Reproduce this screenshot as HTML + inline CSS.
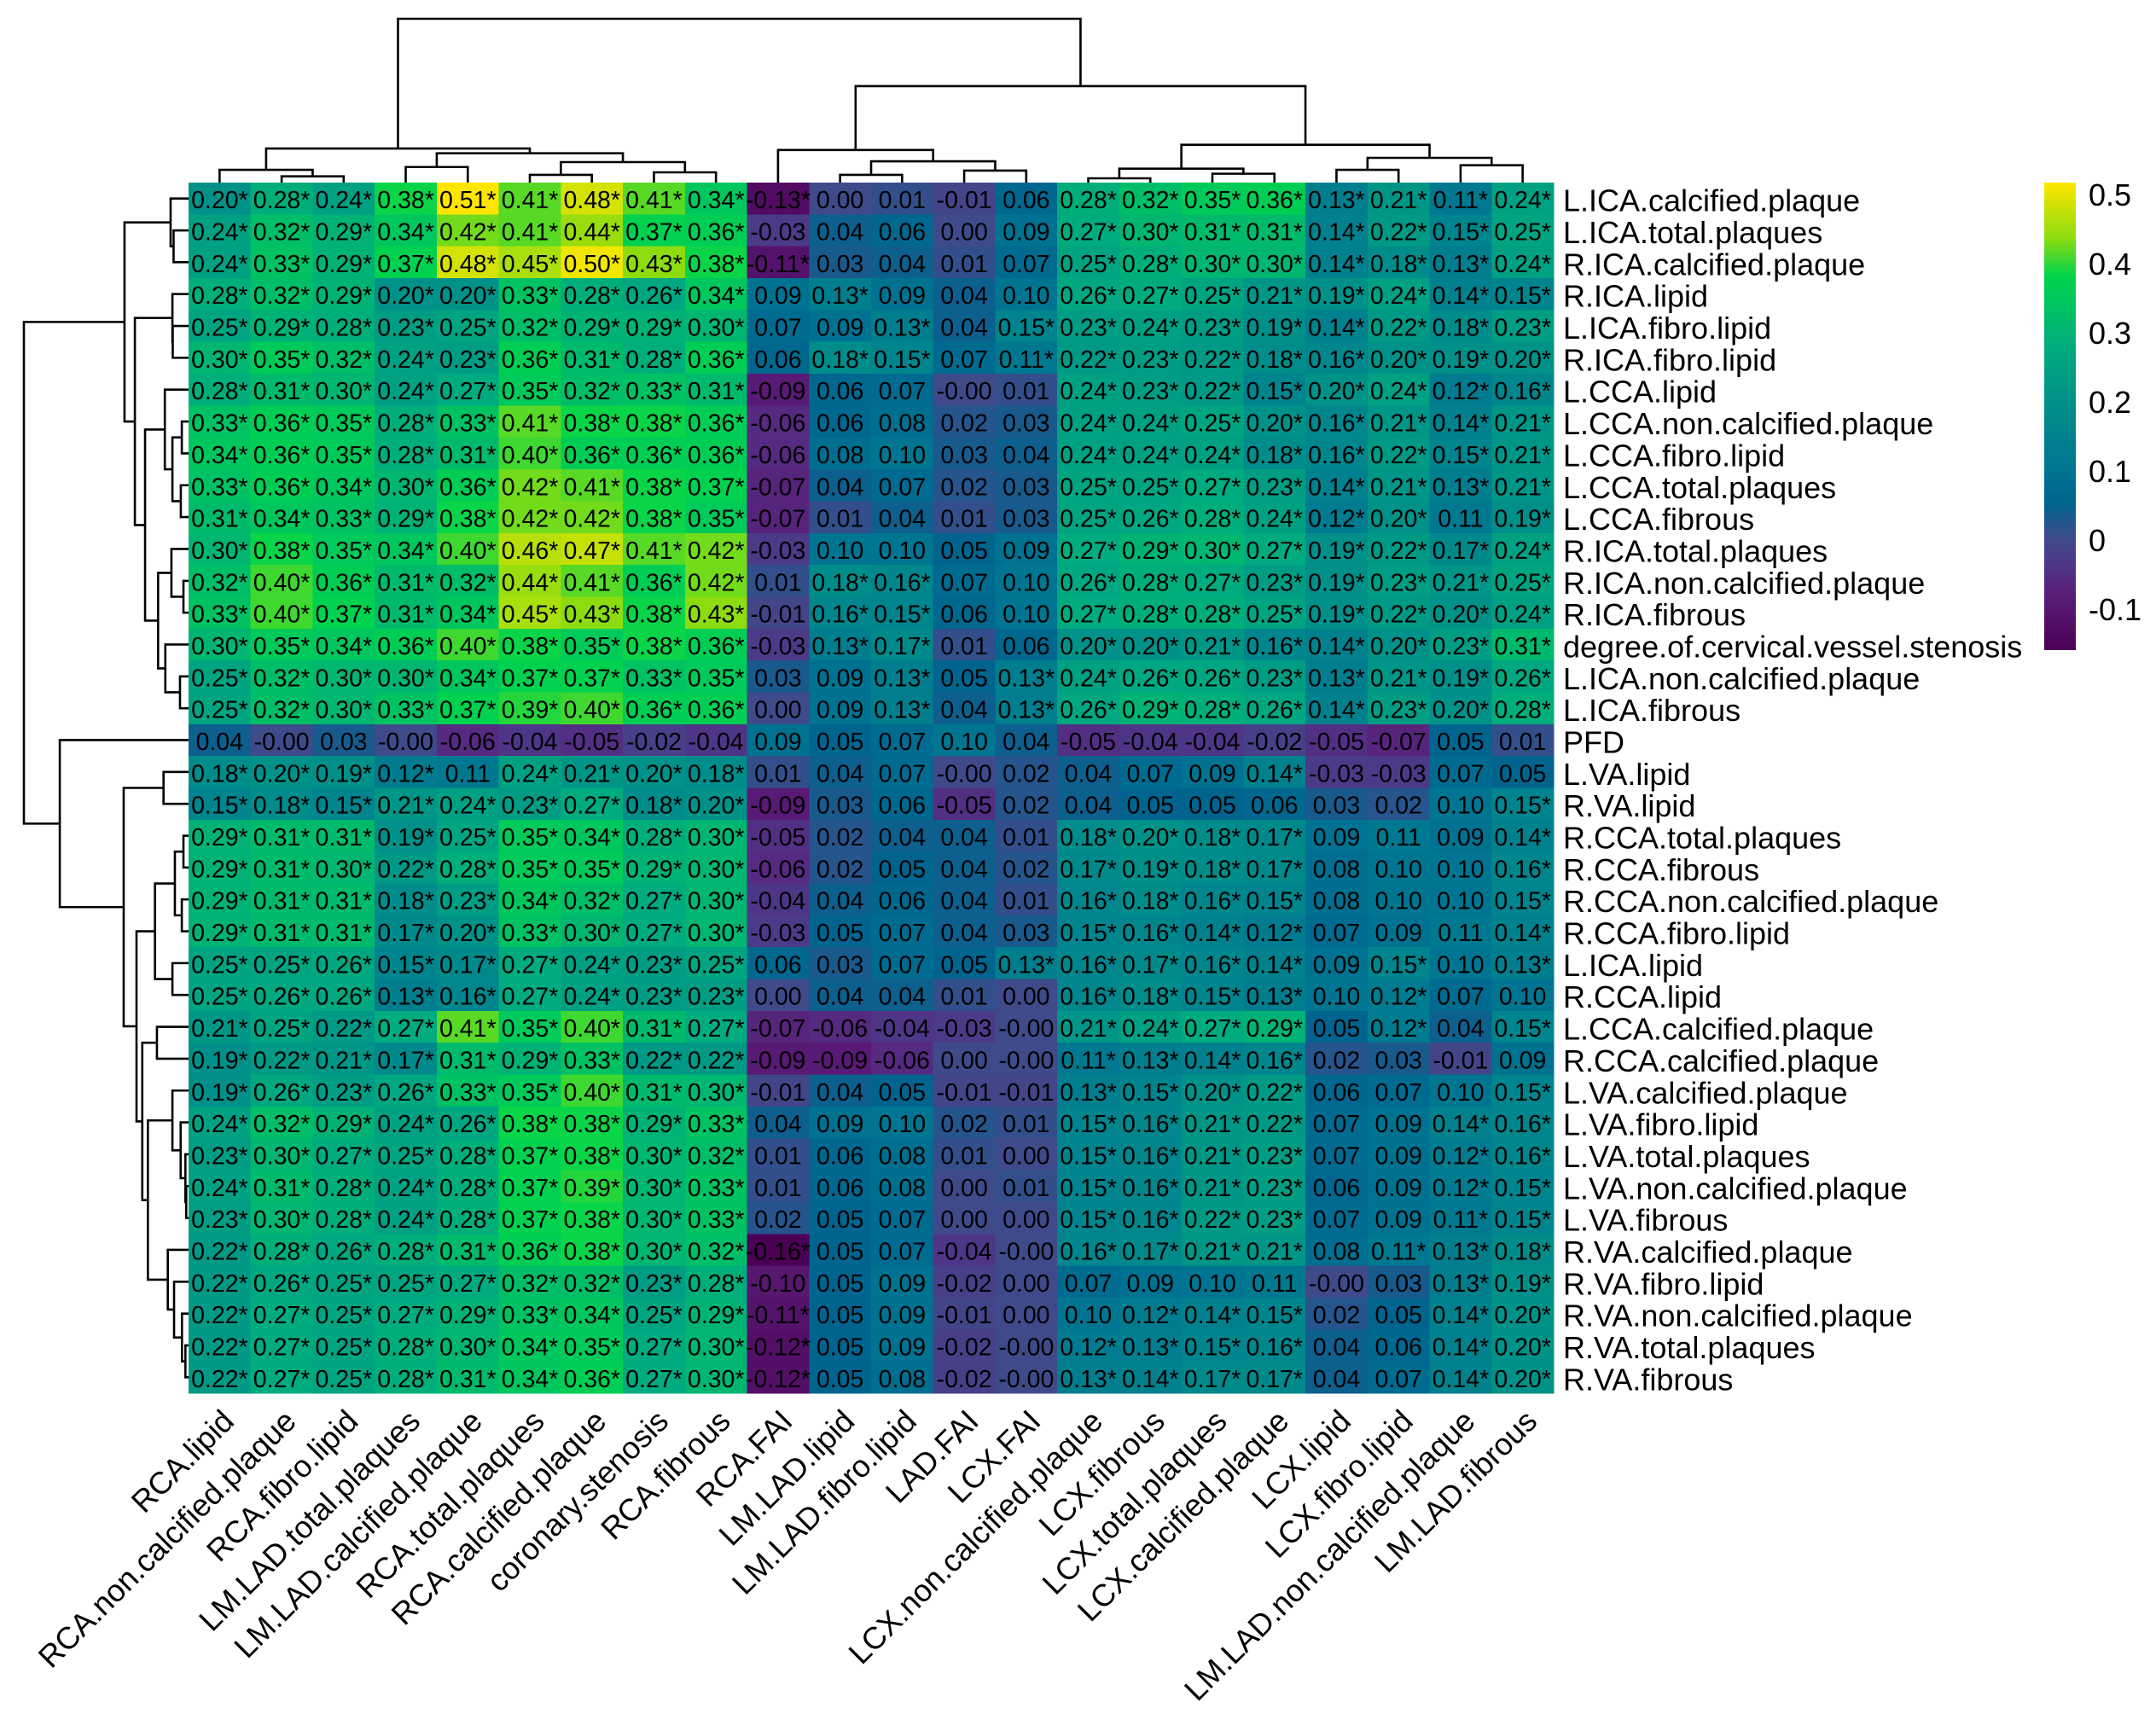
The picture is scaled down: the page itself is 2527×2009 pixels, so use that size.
<!DOCTYPE html>
<html lang="en">
<head>
<meta charset="utf-8">
<title>Clustered correlation heatmap</title>
<style>
html,body{margin:0;padding:0;background:#fff;}
svg{display:block;font-family:"Liberation Sans",Arial,sans-serif;}
</style>
</head>
<body>
<svg id="chart" xmlns="http://www.w3.org/2000/svg" width="2527" height="2009" viewBox="0 0 2527 2009">
<rect x="0" y="0" width="2527" height="2009" fill="#ffffff"/>
</svg>
<script>
const colLabels = ["RCA.lipid","RCA.non.calcified.plaque","RCA.fibro.lipid","LM.LAD.total.plaques","LM.LAD.calcified.plaque","RCA.total.plaques","RCA.calcified.plaque","coronary.stenosis","RCA.fibrous","RCA.FAI","LM.LAD.lipid","LM.LAD.fibro.lipid","LAD.FAI","LCX.FAI","LCX.non.calcified.plaque","LCX.fibrous","LCX.total.plaques","LCX.calcified.plaque","LCX.lipid","LCX.fibro.lipid","LM.LAD.non.calcified.plaque","LM.LAD.fibrous"];
const rowLabels = ["L.ICA.calcified.plaque","L.ICA.total.plaques","R.ICA.calcified.plaque","R.ICA.lipid","L.ICA.fibro.lipid","R.ICA.fibro.lipid","L.CCA.lipid","L.CCA.non.calcified.plaque","L.CCA.fibro.lipid","L.CCA.total.plaques","L.CCA.fibrous","R.ICA.total.plaques","R.ICA.non.calcified.plaque","R.ICA.fibrous","degree.of.cervical.vessel.stenosis","L.ICA.non.calcified.plaque","L.ICA.fibrous","PFD","L.VA.lipid","R.VA.lipid","R.CCA.total.plaques","R.CCA.fibrous","R.CCA.non.calcified.plaque","R.CCA.fibro.lipid","L.ICA.lipid","R.CCA.lipid","L.CCA.calcified.plaque","R.CCA.calcified.plaque","L.VA.calcified.plaque","L.VA.fibro.lipid","L.VA.total.plaques","L.VA.non.calcified.plaque","L.VA.fibrous","R.VA.calcified.plaque","R.VA.fibro.lipid","R.VA.non.calcified.plaque","R.VA.total.plaques","R.VA.fibrous"];
const values = [
[0.20,0.28,0.24,0.38,0.51,0.41,0.48,0.41,0.34,-0.13,0.00,0.01,-0.01,0.06,0.28,0.32,0.35,0.36,0.13,0.21,0.11,0.24],
[0.24,0.32,0.29,0.34,0.42,0.41,0.44,0.37,0.36,-0.03,0.04,0.06,0.00,0.09,0.27,0.30,0.31,0.31,0.14,0.22,0.15,0.25],
[0.24,0.33,0.29,0.37,0.48,0.45,0.50,0.43,0.38,-0.11,0.03,0.04,0.01,0.07,0.25,0.28,0.30,0.30,0.14,0.18,0.13,0.24],
[0.28,0.32,0.29,0.20,0.20,0.33,0.28,0.26,0.34,0.09,0.13,0.09,0.04,0.10,0.26,0.27,0.25,0.21,0.19,0.24,0.14,0.15],
[0.25,0.29,0.28,0.23,0.25,0.32,0.29,0.29,0.30,0.07,0.09,0.13,0.04,0.15,0.23,0.24,0.23,0.19,0.14,0.22,0.18,0.23],
[0.30,0.35,0.32,0.24,0.23,0.36,0.31,0.28,0.36,0.06,0.18,0.15,0.07,0.11,0.22,0.23,0.22,0.18,0.16,0.20,0.19,0.20],
[0.28,0.31,0.30,0.24,0.27,0.35,0.32,0.33,0.31,-0.09,0.06,0.07,-0.00,0.01,0.24,0.23,0.22,0.15,0.20,0.24,0.12,0.16],
[0.33,0.36,0.35,0.28,0.33,0.41,0.38,0.38,0.36,-0.06,0.06,0.08,0.02,0.03,0.24,0.24,0.25,0.20,0.16,0.21,0.14,0.21],
[0.34,0.36,0.35,0.28,0.31,0.40,0.36,0.36,0.36,-0.06,0.08,0.10,0.03,0.04,0.24,0.24,0.24,0.18,0.16,0.22,0.15,0.21],
[0.33,0.36,0.34,0.30,0.36,0.42,0.41,0.38,0.37,-0.07,0.04,0.07,0.02,0.03,0.25,0.25,0.27,0.23,0.14,0.21,0.13,0.21],
[0.31,0.34,0.33,0.29,0.38,0.42,0.42,0.38,0.35,-0.07,0.01,0.04,0.01,0.03,0.25,0.26,0.28,0.24,0.12,0.20,0.11,0.19],
[0.30,0.38,0.35,0.34,0.40,0.46,0.47,0.41,0.42,-0.03,0.10,0.10,0.05,0.09,0.27,0.29,0.30,0.27,0.19,0.22,0.17,0.24],
[0.32,0.40,0.36,0.31,0.32,0.44,0.41,0.36,0.42,0.01,0.18,0.16,0.07,0.10,0.26,0.28,0.27,0.23,0.19,0.23,0.21,0.25],
[0.33,0.40,0.37,0.31,0.34,0.45,0.43,0.38,0.43,-0.01,0.16,0.15,0.06,0.10,0.27,0.28,0.28,0.25,0.19,0.22,0.20,0.24],
[0.30,0.35,0.34,0.36,0.40,0.38,0.35,0.38,0.36,-0.03,0.13,0.17,0.01,0.06,0.20,0.20,0.21,0.16,0.14,0.20,0.23,0.31],
[0.25,0.32,0.30,0.30,0.34,0.37,0.37,0.33,0.35,0.03,0.09,0.13,0.05,0.13,0.24,0.26,0.26,0.23,0.13,0.21,0.19,0.26],
[0.25,0.32,0.30,0.33,0.37,0.39,0.40,0.36,0.36,0.00,0.09,0.13,0.04,0.13,0.26,0.29,0.28,0.26,0.14,0.23,0.20,0.28],
[0.04,-0.00,0.03,-0.00,-0.06,-0.04,-0.05,-0.02,-0.04,0.09,0.05,0.07,0.10,0.04,-0.05,-0.04,-0.04,-0.02,-0.05,-0.07,0.05,0.01],
[0.18,0.20,0.19,0.12,0.11,0.24,0.21,0.20,0.18,0.01,0.04,0.07,-0.00,0.02,0.04,0.07,0.09,0.14,-0.03,-0.03,0.07,0.05],
[0.15,0.18,0.15,0.21,0.24,0.23,0.27,0.18,0.20,-0.09,0.03,0.06,-0.05,0.02,0.04,0.05,0.05,0.06,0.03,0.02,0.10,0.15],
[0.29,0.31,0.31,0.19,0.25,0.35,0.34,0.28,0.30,-0.05,0.02,0.04,0.04,0.01,0.18,0.20,0.18,0.17,0.09,0.11,0.09,0.14],
[0.29,0.31,0.30,0.22,0.28,0.35,0.35,0.29,0.30,-0.06,0.02,0.05,0.04,0.02,0.17,0.19,0.18,0.17,0.08,0.10,0.10,0.16],
[0.29,0.31,0.31,0.18,0.23,0.34,0.32,0.27,0.30,-0.04,0.04,0.06,0.04,0.01,0.16,0.18,0.16,0.15,0.08,0.10,0.10,0.15],
[0.29,0.31,0.31,0.17,0.20,0.33,0.30,0.27,0.30,-0.03,0.05,0.07,0.04,0.03,0.15,0.16,0.14,0.12,0.07,0.09,0.11,0.14],
[0.25,0.25,0.26,0.15,0.17,0.27,0.24,0.23,0.25,0.06,0.03,0.07,0.05,0.13,0.16,0.17,0.16,0.14,0.09,0.15,0.10,0.13],
[0.25,0.26,0.26,0.13,0.16,0.27,0.24,0.23,0.23,0.00,0.04,0.04,0.01,0.00,0.16,0.18,0.15,0.13,0.10,0.12,0.07,0.10],
[0.21,0.25,0.22,0.27,0.41,0.35,0.40,0.31,0.27,-0.07,-0.06,-0.04,-0.03,-0.00,0.21,0.24,0.27,0.29,0.05,0.12,0.04,0.15],
[0.19,0.22,0.21,0.17,0.31,0.29,0.33,0.22,0.22,-0.09,-0.09,-0.06,0.00,-0.00,0.11,0.13,0.14,0.16,0.02,0.03,-0.01,0.09],
[0.19,0.26,0.23,0.26,0.33,0.35,0.40,0.31,0.30,-0.01,0.04,0.05,-0.01,-0.01,0.13,0.15,0.20,0.22,0.06,0.07,0.10,0.15],
[0.24,0.32,0.29,0.24,0.26,0.38,0.38,0.29,0.33,0.04,0.09,0.10,0.02,0.01,0.15,0.16,0.21,0.22,0.07,0.09,0.14,0.16],
[0.23,0.30,0.27,0.25,0.28,0.37,0.38,0.30,0.32,0.01,0.06,0.08,0.01,0.00,0.15,0.16,0.21,0.23,0.07,0.09,0.12,0.16],
[0.24,0.31,0.28,0.24,0.28,0.37,0.39,0.30,0.33,0.01,0.06,0.08,0.00,0.01,0.15,0.16,0.21,0.23,0.06,0.09,0.12,0.15],
[0.23,0.30,0.28,0.24,0.28,0.37,0.38,0.30,0.33,0.02,0.05,0.07,0.00,0.00,0.15,0.16,0.22,0.23,0.07,0.09,0.11,0.15],
[0.22,0.28,0.26,0.28,0.31,0.36,0.38,0.30,0.32,-0.16,0.05,0.07,-0.04,-0.00,0.16,0.17,0.21,0.21,0.08,0.11,0.13,0.18],
[0.22,0.26,0.25,0.25,0.27,0.32,0.32,0.23,0.28,-0.10,0.05,0.09,-0.02,0.00,0.07,0.09,0.10,0.11,-0.00,0.03,0.13,0.19],
[0.22,0.27,0.25,0.27,0.29,0.33,0.34,0.25,0.29,-0.11,0.05,0.09,-0.01,0.00,0.10,0.12,0.14,0.15,0.02,0.05,0.14,0.20],
[0.22,0.27,0.25,0.28,0.30,0.34,0.35,0.27,0.30,-0.12,0.05,0.09,-0.02,-0.00,0.12,0.13,0.15,0.16,0.04,0.06,0.14,0.20],
[0.22,0.27,0.25,0.28,0.31,0.34,0.36,0.27,0.30,-0.12,0.05,0.08,-0.02,-0.00,0.13,0.14,0.17,0.17,0.04,0.07,0.14,0.20]
];
// Cells rounded to |0.11| that still carry a significance star: [row index, column index]
const borderlineStars = [[0,20],[2,9],[5,13],[27,14],[32,20],[33,19],[35,9]];
const starThreshold = 0.115;
const legendTicks = [0.5,0.4,0.3,0.2,0.1,0,-0.1];
const legendDomain = [-0.16,0.51];
const colorValues = [-0.16,-0.08,-0.04,0.0,0.05,0.1,0.2,0.274,0.376,0.43,0.51];
const colorHexes = ["#4b0055","#5a1e78","#4f3587","#3f4a8a","#00648f","#007591","#009288","#00ac7e","#00d44c","#8cdc10","#ffe600"];
// Dendrograms: [merge height, child, child]; a number child is a leaf index; heights relative to the root
const colTree = [1.0,
  [0.208,
    [0.078,0,[0.038,1,2]],
    [0.179,[0.095,3,4],[0.125,[0.047,5,6],[0.0625,7,8]]]],
  [0.589,
    [0.199,9,[0.130,[0.047,10,11],[0.073,12,13]]],
    [0.231,[0.085,[0.026,14,15],[0.054,16,17]],[0.151,[0.078,18,19],[0.106,20,21]]]]];
const rowTree = [1.0,
  [0.389,
    [0.109,0,[0.091,1,2]],
    [0.326,
      [0.098,3,[0.096,4,5]],
      [0.264,
        [0.144,6,[0.098,[0.041,7,8],[0.047,9,10]]],
        [0.185,[0.104,11,[0.031,12,13]],[0.141,14,[0.052,15,16]]]]]],
  [0.782,17,
    [0.394,
      [0.152,18,19],
      [0.316,
        [0.204,[0.083,[0.031,20,21],[0.041,22,23]],[0.098,24,25]],
        [0.281,
          [0.192,26,27],
          [0.247,
            [0.098,28,[0.048,29,[0.019,30,[0.014,31,32]]]],
            [0.126,33,[0.088,34,[0.040,35,[0.019,36,37]]]]]]]]]];

const svg = document.getElementById('chart');
const NS = 'http://www.w3.org/2000/svg';
const heat = {left:221, right:1821, top:214, bottom:1633};
const colW = (heat.right - heat.left) / colLabels.length;
const rowH = (heat.bottom - heat.top) / rowLabels.length;
const xCol = c => heat.left + (c + 0.5) * colW;
const yRow = r => heat.top + (r + 0.5) * rowH;
const topDendro = {base:214, span:192};
const leftDendro = {base:221, span:193};
const yColH = h => topDendro.base - h * topDendro.span;
const xRowH = h => leftDendro.base - h * leftDendro.span;
const legendBox = {x:2396, w:37, top:214, bottom:762};
const yLegend = v => legendBox.bottom - (v - legendDomain[0]) / (legendDomain[1] - legendDomain[0]) * (legendBox.bottom - legendBox.top);
const yLegendTick = v => 633.5 - v * 810;

function node(tag, attrs, parent) {
  const el = document.createElementNS(NS, tag);
  for (const k in attrs) el.setAttribute(k, attrs[k]);
  (parent || svg).appendChild(el);
  return el;
}
function hexToRgb(h) { return [1,3,5].map(i => parseInt(h.substr(i,2),16)); }
function colorFor(v) {
  const n = colorValues.length;
  if (v <= colorValues[0]) return colorHexes[0];
  if (v >= colorValues[n-1]) return colorHexes[n-1];
  for (let i = 0; i < n-1; i++) {
    if (v <= colorValues[i+1]) {
      const t = (v - colorValues[i]) / (colorValues[i+1] - colorValues[i]);
      const a = hexToRgb(colorHexes[i]), b = hexToRgb(colorHexes[i+1]);
      return 'rgb(' + a.map((x,j) => Math.round(x + (b[j]-x)*t)).join(',') + ')';
    }
  }
}
function cellText(v, r, c) {
  const neg = v < 0 || Object.is(v, -0);
  let s = (neg ? '-' : '') + Math.abs(v).toFixed(2);
  const star = Math.abs(v) >= starThreshold || borderlineStars.some(p => p[0] === r && p[1] === c);
  return star ? s + '*' : s;
}

// Heatmap cells
const cellGroup = node('g', {'shape-rendering':'crispEdges'});


const textGroup = node('g', {'font-size':'28.5', 'text-anchor':'middle', 'fill':'#000'});


values.forEach((row, r) => {
  row.forEach((v, c) => {
    const rect = node('rect', {x:heat.left + c*colW, y:heat.top + r*rowH, width:colW + 0.5, height:rowH + 0.5, fill:colorFor(v)}, cellGroup);
    
    
    const t = node('text', {x:xCol(c), y:yRow(r) + 11.5}, textGroup);
    
    
    t.textContent = cellText(v, r, c);
  });
});

// Dendrograms
function drawTree(tree, group, horizontal) {
  const pos = horizontal ? yRow : xCol;
  function walk(n) {
    if (typeof n === 'number') return {p: pos(n), h: 0};
    const a = walk(n[1]), b = walk(n[2]), h = n[0];
    let d;
    if (horizontal) {
      d = 'M' + xRowH(a.h) + ' ' + a.p + 'H' + xRowH(h) + 'V' + b.p + 'H' + xRowH(b.h);
    } else {
      d = 'M' + a.p + ' ' + yColH(a.h) + 'V' + yColH(h) + 'H' + b.p + 'V' + yColH(b.h);
    }
    const path = node('path', {d:d, fill:'none', stroke:'#000', 'stroke-width':'2.6', 'stroke-linejoin':'miter', 'stroke-linecap':'butt'}, group);
    
    
    return {p: (a.p + b.p) / 2, h: h};
  }
  walk(tree);
}
const colDendro = node('g', {});


drawTree(colTree, colDendro, false);
const rowDendro = node('g', {});


drawTree(rowTree, rowDendro, true);

// Row labels
const rowLabelGroup = node('g', {'font-size':'36', 'fill':'#000'});


rowLabels.forEach((s, r) => {
  const t = node('text', {x:1832, y:yRow(r) + 15}, rowLabelGroup);
  
  
  t.textContent = s;
});

// Column labels
const colLabelGroup = node('g', {'font-size':'36.4', 'fill':'#000', 'text-anchor':'end'});


colLabels.forEach((s, c) => {
  const x = xCol(c) + 19, y = 1668;
  const t = node('text', {x:x, y:y, transform:'rotate(-45 ' + x + ' ' + y + ')'}, colLabelGroup);
  
  
  t.textContent = s;
});

// Legend colour bar
const defs = node('defs', {});
const grad = node('linearGradient', {id:'legend-gradient', x1:'0', y1:'1', x2:'0', y2:'0'}, defs);
colorValues.forEach((v, i) => {
  node('stop', {offset:(v - legendDomain[0]) / (legendDomain[1] - legendDomain[0]), 'stop-color':colorHexes[i]}, grad);
});
const bar = node('rect', {x:legendBox.x, y:legendBox.top, width:legendBox.w, height:legendBox.bottom - legendBox.top, fill:'url(#legend-gradient)'});


const legendGroup = node('g', {'font-size':'36', 'fill':'#000'});


legendTicks.forEach(v => {
  const t = node('text', {x:2448, y:yLegendTick(v) + 12.5}, legendGroup);
  
  
  t.textContent = String(v);
});
</script>
</body>
</html>
